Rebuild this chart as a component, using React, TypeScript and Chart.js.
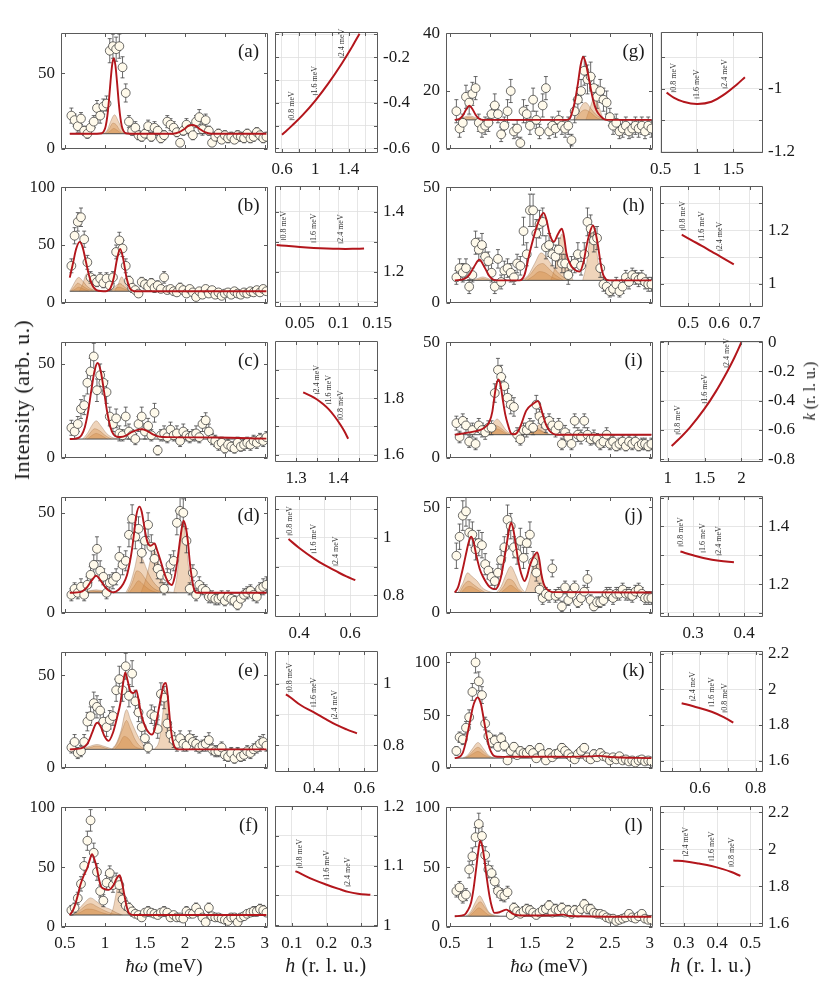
import React, { useEffect, useRef } from "react";
import { Chart, registerables } from "chart.js";

Chart.register(...registerables);

// ---------------- data ----------------
const ENERGY = [0.58,0.62,0.66,0.70,0.74,0.78,0.82,0.86,0.90,0.94,
  0.98,1.02,1.06,1.10,1.14,1.18,1.22,1.26,1.30,1.34,
  1.38,1.42,1.46,1.50,1.54,1.58,1.62,1.66,1.70,1.74,
  1.78,1.82,1.86,1.90,1.94,1.98,2.02,2.06,2.10,2.14,
  2.18,2.22,2.26,2.30,2.34,2.38,2.42,2.46,2.50,2.54,
  2.58,2.62,2.66,2.70,2.74,2.78,2.82,2.86,2.90,2.94,
  2.98,3.02];

const Y_A = [22,19,15,20,12,10,14,18,27,22, 28,30,65,68,66,68,54,37,18,12, 14,9,8,10,15,8,14,12,7,9, 18,16,14,11,4,12,16,13,9,18, 21,13,19,12,4,8,10,6,9,7, 8,6,9,8,7,10,7,8,11,9, 7,8];
const ERR_A = [5,4,4,4,3,3,4,4,5,5, 5,5,8,8,8,8,7,6,4,3, 4,3,3,3,4,3,4,3,3,3, 4,4,4,3,2.5,3,4,4,3,4, 5,4,4,3,2.5,3,3,2.5,3,3, 3,2.5,3,3,3,3,3,3,3,3, 3,3];
const Y_B = [32,58,70,74,55,35,22,20,18,21, 17,21,15,22,44,54,47,32,19,13, 11,8,18,16,14,17,13,15,12,22, 11,12,10,9,13,11,8,12,9,5, 10,7,12,8,11,7,9,6,8,9, 7,10,8,7,9,8,10,9,11,9, 12,10];
const ERR_B = [6,7,8,8,7,6,5,4,4,5, 4,5,4,5,6,7,7,6,4,4, 3,3,4,4,4,4,4,4,3,5, 3,3,3,3,4,3,3,3,3,2.5, 3,3,3,3,3,3,3,2.5,3,3, 3,3,3,3,3,3,3,3,3,3, 3,3];
const Y_C = [16,14,18,26,28,40,46,54,36,44, 40,35,22,18,21,13,12,22,14,12, 10,18,22,14,17,12,24,4,12,13, 11,15,12,13,9,14,12,11,12,13, 11,18,20,14,10,9,7,8,5,7, 6,5,8,6,7,8,7,9,8,10, 9,11];
const ERR_C = [4,4,4,5,5,6,7,7,6,6, 6,6,5,4,5,4,3,5,4,3, 3,4,5,4,4,3,5,2.5,3,4, 3,4,3,4,3,4,3,3,3,4, 3,4,4,4,3,3,3,3,2.5,3, 2.5,2.5,3,2.5,3,3,3,3,3,3, 3,3];
const Y_D = [9,12,10,13,9,14,19,24,32,21, 18,10,15,16,18,28,24,26,39,47, 38,42,30,36,44,33,27,22,19,12, 18,24,26,45,51,50,36,12,20,9, 14,12,11,8,8,7,7,8,6,8, 7,6,4,7,9,10,11,9,8,12, 13,14];
const ERR_D = [3,3,3,4,3,4,4,5,6,5, 4,3,4,4,4,5,5,5,6,7, 6,6,5,6,6,6,5,5,4,3, 4,5,5,6,7,7,6,3,4,3, 4,3,3,3,3,3,3,3,2.5,3, 3,2.5,2.5,3,3,3,3,3,3,3, 4,4];
const Y_E = [11,14,8,9,14,25,28,35,33,31, 25,22,26,28,42,48,42,55,39,51, 36,30,22,16,11,29,28,21,40,38, 24,18,15,13,16,13,12,16,14,13, 11,12,13,15,10,9,9,11,7,6, 8,5,8,6,7,9,8,10,11,13, 14,12];
const ERR_E = [3,4,3,3,4,5,5,6,6,6, 5,5,5,5,6,7,6,7,6,7, 6,5,5,4,3,5,5,5,6,6, 5,4,4,4,4,4,3,4,4,4, 3,3,4,4,3,3,3,3,3,2.5, 3,2.5,3,2.5,3,3,3,3,3,4, 4,3];
const Y_F = [14,16,24,36,51,72,89,62,46,30, 22,37,45,35,39,35,23,18,16,13, 11,10,8,12,13,12,11,10,12,13, 12,8,10,8,8,7,13,11,11,16, 12,8,4,16,9,8,8,7,6,5, 8,8,4,8,9,11,12,13,13,15, 14,12];
const ERR_F = [4,4,5,6,7,8,9,8,7,5, 5,6,6,6,6,6,5,4,4,4, 3,3,3,3,4,3,3,3,3,4, 3,3,3,3,3,3,4,3,3,4, 3,3,2.5,4,3,3,3,3,2.5,2.5, 3,3,2.5,3,3,3,3,4,4,4, 4,3];
const Y_G = [13,7,9,18,16,19,21,9,7,8, 9,12,15,12,5,8,13,20,6,7, 2,13,12,8,17,10,6,15,21,6, 8,7,10,8,7,8,3,13,17,20, 27,24,25,21,18,20,17,16,11,8, 9,6,7,8,6,7,8,7,8,6, 8,7];
const ERR_G = [4,3,3,4,4,4,4,3,3,3, 3,3,4,3,2.5,3,4,4,2.5,3, 2,4,3,3,4,3,2.5,4,4,2.5, 3,3,3,3,3,3,2,4,4,4, 5,5,5,4,4,4,4,4,3,3, 3,2.5,3,3,2.5,3,3,3,3,2.5, 3,3];
const Y_H = [11,15,13,15,7,12,26,23,25,20, 18,13,7,19,9,14,15,13,11,17, 16,31,21,40,40,30,34,35,24,25, 21,20,23,17,17,12,16,17,21,16, 21,35,32,27,28,15,8,7,5,6, 8,5,7,11,9,12,11,10,11,9, 8,8];
const ERR_H = [3,4,4,4,3,3,5,5,5,4, 4,4,3,4,3,4,4,4,3,4, 4,6,5,7,7,6,6,6,5,5, 5,5,5,4,4,4,4,4,5,4, 5,6,6,5,5,4,3,3,2.5,3, 3,2.5,3,3,3,3,3,3,3,3, 3,3];
const Y_I = [15,9,16,14,7,12,6,14,12,11, 13,13,28,38,35,31,26,23,22,10, 8,12,12,14,13,23,18,16,14,16, 14,12,14,6,11,9,6,16,10,9, 16,10,8,9,8,6,7,10,6,7, 5,6,7,5,7,6,7,5,6,6, 5,6];
const ERR_I = [3,2.5,3,3,2.5,3,2.5,3,3,3, 3,3,4,5,5,4,4,4,4,3, 2.5,3,3,3,3,4,3,3,3,3, 3,3,3,2.5,3,3,2.5,3,3,3, 3,3,2.5,3,2.5,2.5,2.5,3,2.5,2.5, 2,2.5,2.5,2,2.5,2.5,2.5,2,2.5,2.5, 2,2.5];
const Y_J = [27,36,46,48,38,37,30,33,32,23, 20,17,15,19,25,31,44,41,31,28, 34,26,33,37,24,19,11,7,9,8, 21,8,9,3,12,6,9,12,5,7, 10,16,6,3,5,5,6,9,9,7, 9,9,11,9,9,8,10,11,9,7, 7,7];
const ERR_J = [6,6,7,7,6,6,5,6,6,5, 4,4,4,4,5,5,7,6,5,5, 6,5,5,6,5,4,3,3,3,3, 4,3,3,2.5,3,2.5,3,3,2.5,3, 3,4,2.5,2,2.5,2.5,2.5,3,3,3, 3,3,3,3,3,3,3,3,3,3, 3,3];
const Y_K = [16,29,27,38,48,72,100,82,69,42, 30,24,26,20,28,21,7,16,20,12, 16,14,14,17,14,9,19,13,7,14, 10,13,14,19,16,13,10,8,13,16, 19,10,8,13,10,14,11,10,7,10, 8,11,7,8,6,7,5,7,8,6, 7,6];
const ERR_K = [4,5,5,6,7,8,10,9,8,6, 5,5,5,4,5,5,3,4,4,3, 4,4,4,4,4,3,4,4,3,4, 3,4,4,4,4,4,3,3,4,4, 4,3,3,4,3,4,3,3,3,3, 3,3,3,3,2.5,3,2.5,3,3,2.5, 3,2.5];
const Y_L = [30,33,25,27,48,59,75,86,76,60, 48,45,38,30,27,26,29,10,16,13, 11,13,15,14,12,10,12,14,15,18, 12,15,14,16,12,14,11,14,12,15, 19,15,15,12,11,11,10,8,7,7, 5,6,7,8,11,8,7,9,11,7, 6,6];
const ERR_L = [5,5,5,5,7,7,8,9,8,7, 7,6,6,5,5,5,5,3,4,4, 3,4,4,4,3,3,3,4,4,4, 3,4,4,4,3,4,3,4,3,4, 4,4,4,3,3,3,3,3,3,3, 2.5,2.5,3,3,3,3,3,3,3,3, 2.5,2.5];

// fitted curves [energy, intensity]
const FIT_A = [[0.56,10],[0.9,10],[0.96,10.3],[0.99,12],[1.01,15.2],[1.03,21.8],[1.05,32.1],[1.07,44.8],[1.09,55.6],[1.11,60],[1.13,55.6],[1.15,44.8],[1.17,32.1],[1.19,21.8],[1.21,15.2],[1.23,12],[1.26,10.3],[1.32,10],[1.85,10],[1.93,11],[1.99,13],[2.04,15],[2.09,15.8],[2.14,15],[2.19,13],[2.25,11],[2.33,10],[3.02,10]];
const FIT_B = [[0.56,21.8],[0.60,34.2],[0.64,46.7],[0.683,52.7],[0.72,48.2],[0.76,36.2],[0.80,23.9],[0.84,15.6],[0.88,11.7],[0.92,10.4],[0.98,10],[1.03,10.4],[1.07,12.8],[1.11,21.7],[1.15,37.5],[1.19,46.5],[1.23,37.5],[1.27,21.7],[1.31,12.8],[1.35,10.4],[1.40,10],[3.02,10]];
const FIT_C = [[0.56,10],[0.628,10.2],[0.668,10.6],[0.708,12.2],[0.748,16.3],[0.788,24.3],[0.828,35.5],[0.868,46],[0.908,50.5],[0.948,46],[0.988,35.5],[1.028,24.3],[1.068,16.3],[1.108,12.4],[1.15,11.2],[1.20,11.1],[1.27,12],[1.34,13.8],[1.42,15],[1.46,15.2],[1.52,14.5],[1.60,12.5],[1.68,11.3],[1.80,11],[2.40,10.8],[3.02,10.2]];
const FIT_D = [[0.56,10],[0.70,10.5],[0.78,13],[0.84,16.5],[0.89,18.5],[0.94,16.5],[1.00,13],[1.06,10.8],[1.11,10.3],[1.17,11.5],[1.23,14.5],[1.275,18.8],[1.31,25],[1.337,31.3],[1.365,40],[1.391,48.5],[1.433,53.1],[1.46,50.5],[1.483,45.3],[1.51,39],[1.533,35.2],[1.57,33.5],[1.62,34.7],[1.655,31],[1.691,26.6],[1.73,21.5],[1.766,17.3],[1.80,14.8],[1.837,13.9],[1.87,17.5],[1.908,26.6],[1.945,38],[1.983,46.1],[2.01,43],[2.037,36],[2.06,26],[2.087,17.3],[2.11,12.5],[2.129,10.5],[2.16,10],[3.02,10]];
const FIT_E = [[0.56,10],[0.70,10.5],[0.78,13],[0.84,19],[0.88,23.5],[0.908,24.4],[0.95,22],[0.99,17.5],[1.046,14.6],[1.10,19],[1.15,27],[1.192,34.8],[1.225,45],[1.254,51.7],[1.285,47],[1.317,41.6],[1.355,40.5],[1.392,41.9],[1.42,37],[1.442,31.5],[1.48,25],[1.525,20.5],[1.588,18],[1.62,20.5],[1.65,26.4],[1.70,38],[1.735,45],[1.763,46],[1.79,37],[1.815,25],[1.84,16.3],[1.879,10.8],[1.92,10],[3.02,10]];
const FIT_F = [[0.56,10],[0.60,14],[0.629,19],[0.66,26.5],[0.692,35],[0.735,43],[0.775,48.6],[0.81,56],[0.838,60.8],[0.87,56],[0.90,48.6],[0.925,40],[0.95,34],[0.983,32],[1.046,31],[1.08,32.5],[1.108,35],[1.15,41],[1.183,43.2],[1.21,38],[1.242,27],[1.27,17.5],[1.296,12],[1.33,10.3],[1.36,10],[3.02,10]];
const FIT_G = [[0.56,10],[0.62,10.4],[0.66,11.5],[0.70,13.5],[0.743,14.9],[0.78,13.8],[0.82,11.8],[0.86,10.5],[0.92,10],[1.96,10],[2.0,10.5],[2.04,13.8],[2.07,17.5],[2.10,22.5],[2.135,29],[2.165,31.9],[2.195,30],[2.228,25.7],[2.26,21],[2.29,17],[2.33,13.5],[2.374,11.6],[2.42,10.4],[2.46,10],[3.02,10]];
const FIT_H = [[0.56,9.7],[0.68,10.3],[0.743,12.2],[0.80,15.5],[0.868,18.6],[0.93,15.5],[0.994,11.5],[1.04,10],[1.077,9.7],[1.37,9.7],[1.433,12.2],[1.496,21.6],[1.54,27.5],[1.58,32.4],[1.63,37],[1.672,38.9],[1.71,35.5],[1.747,29.7],[1.80,26.4],[1.85,29.7],[1.90,32],[1.93,28],[1.956,21.6],[2.0,17],[2.04,14.9],[2.123,13.5],[2.17,17.5],[2.207,24.3],[2.25,30.5],[2.29,33.5],[2.32,30.5],[2.354,24.3],[2.385,17],[2.416,12.2],[2.45,10.2],[2.48,9.7],[3.02,9.7]];
const FIT_I = [[0.56,10],[0.743,11],[0.93,13],[0.994,15.7],[1.03,20],[1.056,26.5],[1.08,31.5],[1.107,33.9],[1.135,31],[1.161,25],[1.19,19],[1.224,14.4],[1.266,10.5],[1.30,10.2],[1.33,10.5],[1.36,12],[1.39,14.4],[1.454,20.4],[1.529,23.1],[1.60,24.5],[1.63,22.5],[1.663,18.4],[1.70,14.5],[1.747,11.6],[1.79,10.4],[1.83,10],[3.02,10]];
const FIT_J = [[0.56,9.6],[0.60,12],[0.638,17.3],[0.67,22.5],[0.70,27.8],[0.735,33.5],[0.764,36],[0.795,33.5],[0.826,27.8],[0.87,21],[0.91,17.3],[0.994,12.3],[1.069,11.2],[1.11,13.5],[1.14,17.3],[1.17,23.5],[1.203,30.8],[1.235,38.5],[1.266,42.6],[1.297,38.5],[1.328,30.8],[1.36,23.5],[1.39,18.6],[1.433,15],[1.465,17.5],[1.496,21.9],[1.545,26.5],[1.592,28.6],[1.618,25],[1.642,18.6],[1.67,14],[1.705,11.5],[1.75,10.2],[1.79,9.8],[3.02,9.6]];
const FIT_K = [[0.56,9.2],[0.62,10.5],[0.659,14.2],[0.69,22],[0.722,33.5],[0.755,46],[0.785,57.3],[0.815,64],[0.847,66.8],[0.869,64.5],[0.889,60],[0.91,51.5],[0.931,42.4],[0.96,30],[0.994,18.7],[1.025,13.5],[1.056,11],[1.10,10.5],[1.161,10.4],[1.6,10.5],[2.0,10.4],[2.25,10.8],[2.374,11.3],[2.50,10.2],[3.02,9.2]];
const FIT_L = [[0.56,9],[0.68,10.1],[0.72,13.5],[0.764,20.5],[0.795,32],[0.826,48],[0.85,61],[0.877,72],[0.905,67],[0.931,56],[0.96,41],[0.994,26],[1.025,16.5],[1.056,11.8],[1.119,12.3],[1.16,13.5],[1.203,14.5],[1.245,13],[1.287,11],[1.35,9.8],[1.41,9.6],[1.80,9.8],[1.914,10.3],[2.0,9.2],[3.02,8.5]];

// shaded mode components [energy, intensity]
const COMP_A = [
  [[0.98,10],[1.03,12.5],[1.07,18],[1.12,22.5],[1.17,18],[1.22,12.5],[1.27,10]],
  [[1.00,10],[1.05,13],[1.10,17],[1.14,16],[1.19,12],[1.24,10]],
  [[1.02,10],[1.07,12],[1.11,13.5],[1.16,12],[1.21,10]],
];
const COMP_B = [
  [[0.56,10],[0.60,15],[0.64,20],[0.67,22],[0.72,19],[0.78,14],[0.86,11],[0.94,10]],
  [[0.57,10],[0.62,14],[0.66,17],[0.71,15],[0.78,12],[0.86,10]],
  [[0.58,10],[0.63,12],[0.67,13.5],[0.73,12],[0.80,10]],
  [[0.68,10],[0.72,16],[0.77,25],[0.81,20],[0.86,13],[0.92,10]],
  [[1.05,10],[1.10,12.5],[1.15,15.5],[1.19,16.6],[1.24,14],[1.30,11],[1.36,10]],
  [[1.08,10],[1.13,12.5],[1.18,13.5],[1.24,12],[1.32,10]],
  [[1.12,10],[1.16,15],[1.21,22.5],[1.25,17],[1.29,12],[1.33,10]],
];
const COMP_C = [
  [[0.72,10],[0.78,13],[0.84,17.5],[0.89,19.7],[0.95,17],[1.02,13],[1.10,10.7],[1.17,10]],
  [[0.75,10],[0.81,13],[0.87,15.5],[0.93,14.5],[1.00,12],[1.08,10]],
  [[0.78,10],[0.84,12],[0.89,13],[0.95,12],[1.03,10]],
];
const COMP_D = [
  [[0.69,10],[0.78,10.8],[0.89,11.5],[1.00,10.8],[1.11,10]],
  [[0.72,10],[0.85,11],[0.98,10.6],[1.08,10]],
  [[0.75,10],[0.89,10.6],[1.05,10]],
  [[1.26,10],[1.32,15],[1.37,22],[1.42,29.7],[1.47,27],[1.52,22],[1.58,17],[1.66,13],[1.75,11],[1.90,10]],
  [[1.28,10],[1.34,15],[1.40,21],[1.45,20],[1.52,16],[1.60,12.5],[1.70,10.5],[1.80,10]],
  [[1.30,10],[1.36,13],[1.42,16],[1.48,14],[1.56,11.5],[1.66,10]],
  [[1.45,10],[1.52,18],[1.58,28],[1.62,31],[1.67,25],[1.72,16],[1.78,10]],
  [[1.86,10],[1.90,18],[1.94,33],[1.98,45],[2.02,33],[2.06,18],[2.11,10]],
];
const COMP_E = [
  [[0.70,10],[0.80,11.5],[0.90,12.6],[1.00,11.5],[1.10,10]],
  [[0.75,10],[0.90,11.8],[1.05,10]],
  [[1.08,10],[1.14,13],[1.20,20],[1.27,31.5],[1.32,26],[1.38,20],[1.44,15],[1.52,11],[1.62,10]],
  [[1.10,10],[1.16,14],[1.22,21],[1.27,25.6],[1.32,21],[1.38,15],[1.46,11],[1.56,10]],
  [[1.12,10],[1.18,13],[1.24,17],[1.29,16],[1.36,12],[1.46,10]],
  [[1.62,10],[1.68,15],[1.72,28],[1.76,42],[1.80,28],[1.84,15],[1.89,10]],
];
const COMP_F = [
  [[0.58,10],[0.66,14],[0.74,20],[0.82,24.3],[0.90,21],[0.98,17],[1.06,15],[1.14,12],[1.22,10]],
  [[0.60,10],[0.68,13.5],[0.76,18],[0.82,19.5],[0.90,17],[1.00,13.5],[1.10,11],[1.20,10]],
  [[0.62,10],[0.70,12.5],[0.78,15],[0.86,14.5],[0.96,12],[1.08,10]],
  [[1.06,10],[1.10,15],[1.14,28],[1.18,42],[1.22,30],[1.26,16],[1.30,10]],
];
const COMP_G = [
  [[0.58,10],[0.66,10.8],[0.74,11.4],[0.82,10.8],[0.88,10]],
  [[0.62,10],[0.74,10.9],[0.85,10]],
  [[2.04,10],[2.10,12.5],[2.16,15.5],[2.20,16],[2.26,14],[2.32,12],[2.40,10.5],[2.46,10]],
  [[2.07,10],[2.13,12.5],[2.19,13.5],[2.26,12.5],[2.34,10.7],[2.42,10]],
  [[2.20,10],[2.25,14],[2.31,18],[2.36,15],[2.41,11],[2.46,10]],
];
const COMP_H = [
  [[0.78,9.7],[0.85,10.6],[0.91,11.2],[0.97,10.6],[1.04,9.7]],
  [[0.82,9.7],[0.91,10.5],[1.00,9.7]],
  [[1.40,9.7],[1.48,12],[1.56,17],[1.64,21.6],[1.70,20],[1.76,17],[1.84,13.5],[1.92,11],[2.00,9.7]],
  [[1.43,9.7],[1.51,12.5],[1.59,16],[1.66,17],[1.73,15],[1.82,12],[1.92,9.7]],
  [[1.46,9.7],[1.54,11.5],[1.62,13.5],[1.69,13],[1.78,11],[1.88,9.7]],
  [[1.76,9.7],[1.81,15],[1.86,25],[1.90,29.7],[1.94,24],[1.98,15],[2.04,9.7]],
  [[2.16,9.7],[2.21,17],[2.25,28],[2.28,32.4],[2.32,27],[2.36,16],[2.42,9.7]],
];
const COMP_I = [
  [[0.92,10],[0.98,11.5],[1.04,15],[1.09,16.8],[1.14,15],[1.20,12],[1.28,10]],
  [[0.95,10],[1.01,12],[1.07,14],[1.13,13],[1.20,11],[1.26,10]],
  [[0.98,10],[1.04,11.5],[1.09,12.5],[1.15,11.5],[1.22,10]],
  [[1.40,10],[1.47,11.5],[1.54,13],[1.61,12.5],[1.68,11],[1.76,10]],
  [[1.46,10],[1.54,11.5],[1.60,12],[1.67,11],[1.74,10]],
  [[1.50,10],[1.56,12],[1.62,14.4],[1.67,12.5],[1.72,10.5],[1.78,10]],
];
const COMP_J = [
  [[0.60,9.6],[0.66,14],[0.72,18.9],[0.78,17],[0.84,15],[0.90,12],[0.98,10.2],[1.04,9.6]],
  [[0.62,9.6],[0.68,13.5],[0.73,15],[0.79,13.5],[0.86,11.5],[0.94,9.6]],
  [[0.64,9.6],[0.70,12],[0.75,12.5],[0.81,11.5],[0.90,9.6]],
  [[1.08,9.6],[1.14,12.5],[1.20,18],[1.26,22],[1.32,18],[1.38,12.5],[1.44,9.6]],
  [[1.11,9.6],[1.17,12.5],[1.23,16],[1.29,15],[1.35,11.5],[1.41,9.6]],
  [[1.14,9.6],[1.20,11.5],[1.26,13],[1.32,11.5],[1.38,9.6]],
  [[1.44,9.6],[1.49,15],[1.54,23],[1.58,27.8],[1.62,22],[1.66,14],[1.71,9.6]],
];
const COMP_K = [
  [[0.66,9.2],[0.72,12],[0.78,18],[0.85,24],[0.92,18],[0.98,12],[1.06,9.2]],
  [[0.68,9.2],[0.74,12],[0.80,17],[0.85,19.5],[0.91,16],[0.97,11.5],[1.04,9.2]],
  [[0.70,9.2],[0.77,12.5],[0.85,15.5],[0.92,12.5],[1.00,9.2]],
];
const COMP_L = [
  [[0.70,9],[0.76,13],[0.82,21],[0.87,26],[0.92,21],[0.98,13],[1.05,10],[1.12,9]],
  [[0.72,9],[0.78,13],[0.84,19],[0.88,21],[0.93,17],[0.99,11.5],[1.06,9]],
  [[0.74,9],[0.80,12.5],[0.86,16],[0.91,14],[0.97,10.5],[1.03,9]],
];

const SPEC_BASE = [10,10,10,10,10,10,10,9.7,10,9.6,9.2,9];
const BASE_RANGE = [0.56, 3.02];
const SPEC_X_RANGE = [0.45, 3.04];
const SPEC_XT = [0.5, 1, 1.5, 2, 2.5, 3];
const SPEC_YMAX = [76.6,100,61.6,57.8,62.6,100,40,50,50,54.7,109.7,100];
const SPEC_YT = [[0,50],[0,50,100],[0,50],[0,50],[0,50],[0,50,100],[0,20,40],[0,50],[0,50],[0,50],[0,50,100],[0,50,100]];
const LETTERS = ["(a)","(b)","(c)","(d)","(e)","(f)","(g)","(h)","(i)","(j)","(k)","(l)"];

// dispersion curves [h, k]
const DISP_A = [[0.6,-0.54],[0.72,-0.50],[0.85,-0.453],[1.0,-0.39],[1.15,-0.318],[1.32,-0.226],[1.45,-0.148],[1.53,-0.097]];
const DISP_B = [[0.02,1.289],[0.032,1.286],[0.05,1.282],[0.068,1.279],[0.085,1.277],[0.1,1.276],[0.118,1.276],[0.133,1.277]];
const DISP_C = [[1.317,1.82],[1.335,1.808],[1.35,1.795],[1.365,1.778],[1.378,1.76],[1.392,1.735],[1.406,1.705],[1.415,1.683],[1.424,1.657]];
const DISP_D = [[0.358,0.996],[0.4,0.965],[0.458,0.928],[0.5,0.905],[0.543,0.885],[0.585,0.866],[0.62,0.853]];
const DISP_E = [[0.291,0.965],[0.308,0.956],[0.35,0.93],[0.4,0.908],[0.45,0.884],[0.486,0.868],[0.53,0.852],[0.571,0.839]];
const DISP_F = [[0.11,1.091],[0.124,1.087],[0.16,1.077],[0.2,1.068],[0.24,1.060],[0.262,1.056],[0.29,1.053],[0.326,1.051]];
const DISP_G = [[0.582,-1.012],[0.68,-1.028],[0.8,-1.04],[1.0,-1.048],[1.2,-1.041],[1.387,-1.016],[1.55,-0.986],[1.66,-0.963]];
const DISP_H = [[0.479,1.184],[0.484,1.180],[0.51,1.163],[0.544,1.142],[0.575,1.121],[0.603,1.103],[0.648,1.073]];
const DISP_I = [[1.054,-0.711],[1.143,-0.668],[1.3,-0.585],[1.5,-0.455],[1.65,-0.34],[1.797,-0.21],[1.9,-0.11],[2.0,0.0]];
const DISP_J = [[0.275,1.313],[0.3,1.3],[0.32,1.291],[0.351,1.281],[0.38,1.276]];
const DISP_K = [[0.534,1.922],[0.576,1.905],[0.642,1.874],[0.69,1.84],[0.72,1.813]];
const DISP_L = [[0.268,1.939],[0.306,1.933],[0.345,1.922],[0.383,1.909],[0.415,1.893],[0.443,1.876],[0.47,1.855]];

// label positions for 0.8, 1.6, 2.4 meV on each curve
const ENERGY_LABELS = ["0.8 meV", "1.6 meV", "2.4 meV"];
const MARK_A = [[0.72,-0.50],[1.0,-0.39],[1.32,-0.226]];
const MARK_B = [[0.029,1.287],[0.068,1.279],[0.103,1.276]];
const MARK_C = [[1.406,1.705],[1.378,1.76],[1.35,1.795]];
const MARK_D = [[0.364,0.99],[0.458,0.928],[0.543,0.885]];
const MARK_E = [[0.308,0.956],[0.4,0.908],[0.486,0.868]];
const MARK_F = [[0.124,1.087],[0.2,1.068],[0.262,1.056]];
const MARK_G = [[0.68,-1.028],[1.0,-1.048],[1.387,-1.016]];
const MARK_H = [[0.484,1.180],[0.544,1.142],[0.603,1.103]];
const MARK_I = [[1.143,-0.668],[1.5,-0.455],[1.797,-0.21]];
const MARK_J = [[0.276,1.312],[0.32,1.291],[0.351,1.281]];
const MARK_K = [[0.69,1.84],[0.642,1.874],[0.576,1.905]];
const MARK_L = [[0.443,1.876],[0.383,1.909],[0.306,1.933]];

const DISP_XR = [[0.516,1.752],[0.018,0.151],[1.25,1.495],[0.305,0.709],[0.248,0.654],[0.051,0.348],[0.5,1.909],[0.408,0.743],[0.896,2.292],[0.235,0.437],[0.456,0.827],[0.228,0.538]];
const DISP_YR = [[-0.62,-0.09],[1.082,1.485],[1.575,2.0],[0.725,1.145],[0.714,1.105],[0.997,1.2],[-1.204,-0.82],[0.914,1.364],[-0.82,0.007],[1.086,1.505],[1.537,2.213],[1.579,2.232]];
const DISP_XT = [[0.6,0.8,1.0,1.2,1.4,1.6],[0.025,0.05,0.075,0.1,0.125,0.15],[1.3,1.35,1.4,1.45],[0.4,0.5,0.6],[0.3,0.4,0.5,0.6],[0.1,0.2,0.3],[0.5,1,1.5],[0.5,0.6,0.7],[1,1.5,2],[0.25,0.3,0.35,0.4],[0.5,0.6,0.7,0.8],[0.3,0.4,0.5]];
const DISP_XL = [[0.6,1,1.4],[0.05,0.1,0.15],[1.3,1.4],[0.4,0.6],[0.4,0.6],[0.1,0.2,0.3],[0.5,1,1.5],[0.5,0.6,0.7],[1,1.5,2],[0.3,0.4],[0.6,0.8],[0.3,0.4,0.5]];
const DISP_YT = [[-0.6,-0.5,-0.4,-0.3,-0.2,-0.1],[1.1,1.2,1.3,1.4],[1.6,1.7,1.8,1.9],[0.8,0.9,1.0,1.1],[0.8,0.9,1.0],[1.0,1.05,1.1,1.15,1.2],[-1.2,-1.1,-1.0,-0.9],[1.0,1.1,1.2,1.3],[-0.8,-0.6,-0.4,-0.2,0],[1.1,1.2,1.3,1.4,1.5],[1.6,1.8,2.0,2.2],[1.6,1.8,2.0,2.2]];
const DISP_YL = [[-0.6,-0.4,-0.2],[1.2,1.4],[1.6,1.8],[0.8,1],[0.8,1],[1,1.1,1.2],[-1.2,-1],[1,1.2],[-0.8,-0.6,-0.4,-0.2,0],[1.2,1.4],[1.6,1.8,2,2.2],[1.6,1.8,2,2.2]];

const SPEC_Y = [Y_A,Y_B,Y_C,Y_D,Y_E,Y_F,Y_G,Y_H,Y_I,Y_J,Y_K,Y_L];
const SPEC_ERR = [ERR_A,ERR_B,ERR_C,ERR_D,ERR_E,ERR_F,ERR_G,ERR_H,ERR_I,ERR_J,ERR_K,ERR_L];
const SPEC_FIT = [FIT_A,FIT_B,FIT_C,FIT_D,FIT_E,FIT_F,FIT_G,FIT_H,FIT_I,FIT_J,FIT_K,FIT_L];
const SPEC_COMP = [COMP_A,COMP_B,COMP_C,COMP_D,COMP_E,COMP_F,COMP_G,COMP_H,COMP_I,COMP_J,COMP_K,COMP_L];
const DISP = [DISP_A,DISP_B,DISP_C,DISP_D,DISP_E,DISP_F,DISP_G,DISP_H,DISP_I,DISP_J,DISP_K,DISP_L];
const MARKS = [MARK_A,MARK_B,MARK_C,MARK_D,MARK_E,MARK_F,MARK_G,MARK_H,MARK_I,MARK_J,MARK_K,MARK_L];

// ---------------- layout / style ----------------
const SERIF = '"Liberation Serif", "Times New Roman", serif';
const TXT = "#1a1a1a";
const RED = "#b3161c";
const FRAME = "#5a5a5a";
const ROW_TOP = [29, 183, 338, 493, 648, 803];
const PLOT_H = 124;
const SPEC_LEFT = [61, 446];
const SPEC_W = 207;
const DISP_LEFT = [275, 660];
const DISP_W = 103;
const TICK = 3.5;

const pairs = (arr: number[][]) => arr.map((p) => ({ x: p[0], y: p[1] }));
const has = (list: number[], v: number) => list.some((l) => Math.abs(l - v) < 1e-9);

function framePlugin(xt: number[], yt: number[]) {
  return {
    id: "frame",
    afterDatasetsDraw(chart: any) {
      const { ctx, chartArea: a, scales } = chart;
      const x = scales.x, y = scales.y;
      const L = Math.round(a.left) + 0.5, R = Math.round(a.right) - 0.5;
      const T = Math.round(a.top) + 0.5, B = Math.round(a.bottom) - 0.5;
      ctx.save();
      ctx.strokeStyle = FRAME;
      ctx.lineWidth = 1;
      ctx.beginPath();
      ctx.rect(L, T, R - L, B - T);
      for (const v of xt) {
        if (v < x.min || v > x.max) continue;
        const px = Math.round(x.getPixelForValue(v)) + 0.5;
        ctx.moveTo(px, B); ctx.lineTo(px, B - TICK);
        ctx.moveTo(px, T); ctx.lineTo(px, T + TICK);
      }
      for (const v of yt) {
        if (v < y.min || v > y.max) continue;
        const py = Math.round(y.getPixelForValue(v)) + 0.5;
        ctx.moveTo(L, py); ctx.lineTo(L + TICK, py);
        ctx.moveTo(R, py); ctx.lineTo(R - TICK, py);
      }
      ctx.stroke();
      ctx.restore();
    },
  };
}

function errPlugin(err: number[]) {
  return {
    id: "errbars",
    beforeDatasetDraw(chart: any, args: any) {
      const ds = chart.data.datasets[args.index];
      if (ds.label !== "data") return;
      const { ctx, chartArea: a, scales } = chart;
      const x = scales.x, y = scales.y;
      ctx.save();
      ctx.beginPath();
      ctx.rect(a.left, a.top, a.right - a.left, a.bottom - a.top);
      ctx.clip();
      ctx.strokeStyle = "#444";
      ctx.lineWidth = 0.8;
      ctx.beginPath();
      ds.data.forEach((pt: any, i: number) => {
        const e = err[i];
        const px = x.getPixelForValue(pt.x);
        const y1 = y.getPixelForValue(pt.y - e);
        const y2 = y.getPixelForValue(pt.y + e);
        ctx.moveTo(px, y1); ctx.lineTo(px, y2);
        ctx.moveTo(px - 2, y1); ctx.lineTo(px + 2, y1);
        ctx.moveTo(px - 2, y2); ctx.lineTo(px + 2, y2);
      });
      ctx.stroke();
      ctx.restore();
    },
  };
}

function letterPlugin(text: string) {
  return {
    id: "letter",
    afterDraw(chart: any) {
      const { ctx, chartArea: a } = chart;
      ctx.save();
      ctx.font = `19px ${SERIF}`;
      ctx.fillStyle = TXT;
      ctx.textAlign = "center";
      ctx.textBaseline = "middle";
      ctx.fillText(text, a.right - 19.5, a.top + 18.5);
      ctx.restore();
    },
  };
}

function markPlugin(marks: number[][]) {
  return {
    id: "marks",
    afterDatasetsDraw(chart: any) {
      const { ctx, scales } = chart;
      const x = scales.x, y = scales.y;
      ctx.save();
      ctx.font = `8px ${SERIF}`;
      ctx.fillStyle = "#333";
      ctx.strokeStyle = "#333";
      ctx.lineWidth = 0.7;
      marks.forEach((m, k) => {
        const px = x.getPixelForValue(m[0]);
        const py = y.getPixelForValue(m[1]);
        ctx.beginPath();
        ctx.moveTo(px - 2.5, py - 6);
        ctx.lineTo(px + 2.5, py - 6);
        ctx.stroke();
        ctx.save();
        ctx.translate(px, py - 7);
        ctx.rotate(-Math.PI / 2);
        ctx.textAlign = "left";
        ctx.textBaseline = "middle";
        ctx.fillText(ENERGY_LABELS[k], 0, 0);
        ctx.restore();
      });
      ctx.restore();
    },
  };
}

const tickFont = { family: SERIF, size: 17 };

function SpectrumPanel({ i }: { i: number }) {
  const ref = useRef<HTMLCanvasElement>(null);
  const col = i < 6 ? 0 : 1;
  const row = i % 6;
  const bottom = row === 5;
  const padL = 52, padR = 10, padT = 12, padB = bottom ? 36 : 12;
  const W = padL + SPEC_W + padR, H = padT + PLOT_H + padB;
  const left = SPEC_LEFT[col] - padL, top = ROW_TOP[row] - padT;

  useEffect(() => {
    const yv = SPEC_Y[i];
    const base = SPEC_BASE[i];
    const datasets: any[] = [
      { label: "fit", data: pairs(SPEC_FIT[i]), borderColor: RED, borderWidth: 1.9, pointRadius: 0, cubicInterpolationMode: "monotone", fill: false, order: 0 },
      { label: "data", data: ENERGY.map((x, k) => ({ x, y: yv[k] })), showLine: false, pointRadius: 4.4, pointBackgroundColor: "#fffaeb", pointBorderColor: "#2e2e2e", pointBorderWidth: 0.7, order: 1 },
      { label: "base", data: [{ x: BASE_RANGE[0], y: base }, { x: BASE_RANGE[1], y: base }], borderColor: "#505050", borderWidth: 1, pointRadius: 0, fill: false, order: 2 },
      ...SPEC_COMP[i].map((c, j) => ({
        label: "c" + j, data: pairs(c), fill: { value: base },
        backgroundColor: "rgba(212,136,64,0.36)", borderColor: "rgba(110,65,30,0.45)", borderWidth: 0.6,
        pointRadius: 0, cubicInterpolationMode: "monotone", order: 3 + j,
      })),
    ];
    const chart = new Chart(ref.current as HTMLCanvasElement, {
      type: "line",
      data: { datasets },
      options: {
        responsive: false,
        animation: false,
        events: [],
        layout: { padding: { left: 0, right: padR, top: padT, bottom: 0 } },
        plugins: { legend: { display: false }, tooltip: { enabled: false } },
        scales: {
          x: {
            type: "linear", min: SPEC_X_RANGE[0], max: SPEC_X_RANGE[1],
            afterBuildTicks: (s: any) => { s.ticks = SPEC_XT.map((v) => ({ value: v })); },
            afterFit: (s: any) => { s.height = padB; },
            grid: { display: false, drawTicks: false },
            border: { display: false },
            ticks: { display: bottom, autoSkip: false, maxRotation: 0, padding: 6, font: tickFont, color: TXT, callback: (v: any) => String(v) },
          },
          y: {
            type: "linear", min: 0, max: SPEC_YMAX[i], position: "left",
            afterBuildTicks: (s: any) => { s.ticks = SPEC_YT[i].map((v) => ({ value: v })); },
            afterFit: (s: any) => { s.width = padL; },
            grid: { display: false, drawTicks: false },
            border: { display: false },
            ticks: { autoSkip: false, padding: 6, font: tickFont, color: TXT, callback: (v: any) => String(v) },
          },
        },
      } as any,
      plugins: [errPlugin(SPEC_ERR[i]), framePlugin(SPEC_XT, SPEC_YT[i]), letterPlugin(LETTERS[i])],
    });
    return () => chart.destroy();
  }, [i]);

  return (
    <canvas ref={ref} width={W} height={H}
      style={{ position: "absolute", left, top, width: W, height: H }} />
  );
}

function DispersionPanel({ i }: { i: number }) {
  const ref = useRef<HTMLCanvasElement>(null);
  const col = i < 6 ? 0 : 1;
  const row = i % 6;
  const padL = 16, padR = 48, padT = 12, padB = 30;
  const W = padL + DISP_W + padR, H = padT + PLOT_H + padB;
  const left = DISP_LEFT[col] - padL, top = ROW_TOP[row] - padT;

  useEffect(() => {
    const xt = DISP_XT[i], xl = DISP_XL[i], yt = DISP_YT[i], yl = DISP_YL[i];
    const chart = new Chart(ref.current as HTMLCanvasElement, {
      type: "line",
      data: {
        datasets: [
          { label: "disp", data: pairs(DISP[i]), borderColor: RED, borderWidth: 2, pointRadius: 0, tension: 0.4, fill: false },
        ],
      },
      options: {
        responsive: false,
        animation: false,
        events: [],
        layout: { padding: { left: padL, right: 0, top: padT, bottom: 0 } },
        plugins: { legend: { display: false }, tooltip: { enabled: false } },
        scales: {
          x: {
            type: "linear", min: DISP_XR[i][0], max: DISP_XR[i][1],
            afterBuildTicks: (s: any) => { s.ticks = xt.map((v) => ({ value: v })); },
            afterFit: (s: any) => { s.height = padB; },
            grid: { display: true, drawTicks: false, color: "#e0e0e0", lineWidth: 0.8 },
            border: { display: false },
            ticks: { autoSkip: false, maxRotation: 0, padding: 6, font: tickFont, color: TXT, callback: (v: any) => (has(xl, v) ? String(v) : "") },
          },
          y: {
            type: "linear", min: DISP_YR[i][0], max: DISP_YR[i][1], position: "right",
            afterBuildTicks: (s: any) => { s.ticks = yt.map((v) => ({ value: v })); },
            afterFit: (s: any) => { s.width = padR; },
            grid: { display: true, drawTicks: false, color: "#e0e0e0", lineWidth: 0.8 },
            border: { display: false },
            ticks: { autoSkip: false, padding: 5, font: tickFont, color: TXT, callback: (v: any) => (has(yl, v) ? String(v) : "") },
          },
        },
      } as any,
      plugins: [framePlugin(xt, yt), markPlugin(MARKS[i])],
    });
    return () => chart.destroy();
  }, [i]);

  return (
    <canvas ref={ref} width={W} height={H}
      style={{ position: "absolute", left, top, width: W, height: H }} />
  );
}

const textBase: React.CSSProperties = {
  position: "absolute",
  fontFamily: SERIF,
  color: TXT,
  whiteSpace: "nowrap",
  lineHeight: 1,
};

export default function App() {
  const idx = [0, 1, 2, 3, 4, 5, 6, 7, 8, 9, 10, 11];
  return (
    <div style={{ position: "absolute", left: 0, top: 0, width: 830, height: 989, background: "#ffffff", overflow: "hidden" }}>
      {idx.map((i) => <SpectrumPanel key={"s" + i} i={i} />)}
      {idx.map((i) => <DispersionPanel key={"d" + i} i={i} />)}
      <div style={{ ...textBase, left: 22, top: 400, fontSize: 22, letterSpacing: 0.4, transform: "translate(-50%, -50%) rotate(-90deg)" }}>
        Intensity (arb. u.)
      </div>
      <div style={{ ...textBase, left: 810, top: 391, fontSize: 16, transform: "translate(-50%, -50%) rotate(-90deg)" }}>
        <i>k</i> (r. l. u.)
      </div>
      <div style={{ ...textBase, left: 164, top: 965, fontSize: 19, transform: "translate(-50%, -50%)" }}>
        <i>ħω</i> (meV)
      </div>
      <div style={{ ...textBase, left: 549, top: 965, fontSize: 19, transform: "translate(-50%, -50%)" }}>
        <i>ħω</i> (meV)
      </div>
      <div style={{ ...textBase, left: 326, top: 965, fontSize: 20, letterSpacing: 0.6, transform: "translate(-50%, -50%)" }}>
        <i>h</i> (r. l. u.)
      </div>
      <div style={{ ...textBase, left: 711, top: 965, fontSize: 20, letterSpacing: 0.6, transform: "translate(-50%, -50%)" }}>
        <i>h</i> (r. l. u.)
      </div>
    </div>
  );
}
